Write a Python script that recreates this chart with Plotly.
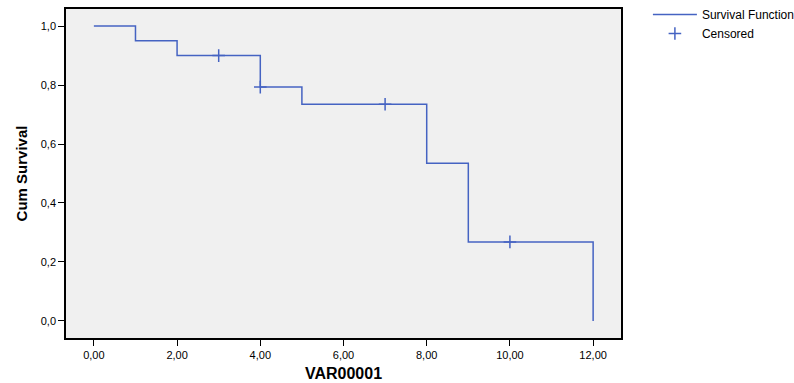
import plotly.graph_objects as go

# Kaplan-Meier step data
step_time = [0, 1, 1, 2, 2, 4, 4, 5, 5, 8, 8, 9, 9, 12, 12]
step_surv = [1.0, 1.0, 0.95, 0.95, 0.90, 0.90, 0.793, 0.793, 0.735, 0.735, 0.535, 0.535, 0.268, 0.268, 0.0]
cens_time = [3, 4, 7, 10]
cens_surv = [0.90, 0.793, 0.735, 0.268]

x_ticks = [0, 2, 4, 6, 8, 10, 12]
x_labels = ["0,00", "2,00", "4,00", "6,00", "8,00", "10,00", "12,00"]
y_ticks = [0, 0.2, 0.4, 0.6, 0.8, 1.0]
y_labels = ["0,0", "0,2", "0,4", "0,6", "0,8", "1,0"]

blue = "#4563C2"

fig = go.Figure()
fig.add_trace(go.Scatter(x=step_time, y=step_surv, mode="lines",
                         line=dict(color=blue, width=1.5, shape="linear"),
                         name="Survival Function"))
fig.add_trace(go.Scatter(x=cens_time, y=cens_surv, mode="markers",
                         marker=dict(symbol="cross-thin", size=9,
                                     line=dict(color=blue, width=1.5)),
                         name="Censored"))

fig.update_layout(
    width=794, height=383,
    margin=dict(l=66, r=173, t=9, b=45, autoexpand=False),
    paper_bgcolor="white",
    plot_bgcolor="#F0F0F0",
    font=dict(family="Liberation Sans, Arial", size=11, color="black"),
    showlegend=True,
    legend=dict(xref="container", yref="container", x=0.816, y=1.0,
                xanchor="left", yanchor="top",
                font=dict(size=12), tracegroupgap=0,
                itemwidth=44, bgcolor="rgba(0,0,0,0)"),
    xaxis=dict(range=[-0.67, 12.67], tickvals=x_ticks, ticktext=x_labels,
               ticks="outside", ticklen=6, tickcolor="black", showgrid=False,
               zeroline=False, showline=True, linecolor="black", linewidth=1.5,
               mirror=True, automargin=False,
               tickfont=dict(size=11),
               title=dict(text="<b>VAR00001</b>",
                          font=dict(size=16, family="Liberation Sans, Arial"),
                          standoff=8)),
    yaxis=dict(range=[-0.058, 1.058], tickvals=y_ticks, ticktext=y_labels,
               ticks="outside", ticklen=6, tickcolor="black", showgrid=False,
               zeroline=False, showline=True, linecolor="black", linewidth=1.5,
               mirror=True, automargin=False,
               tickfont=dict(size=11),
               title=dict(text="<b>Cum Survival</b>",
                          font=dict(size=15, family="Liberation Sans Narrow, Arial Narrow, Liberation Sans"),
                          standoff=10)),
)

fig.write_html("out.html")
